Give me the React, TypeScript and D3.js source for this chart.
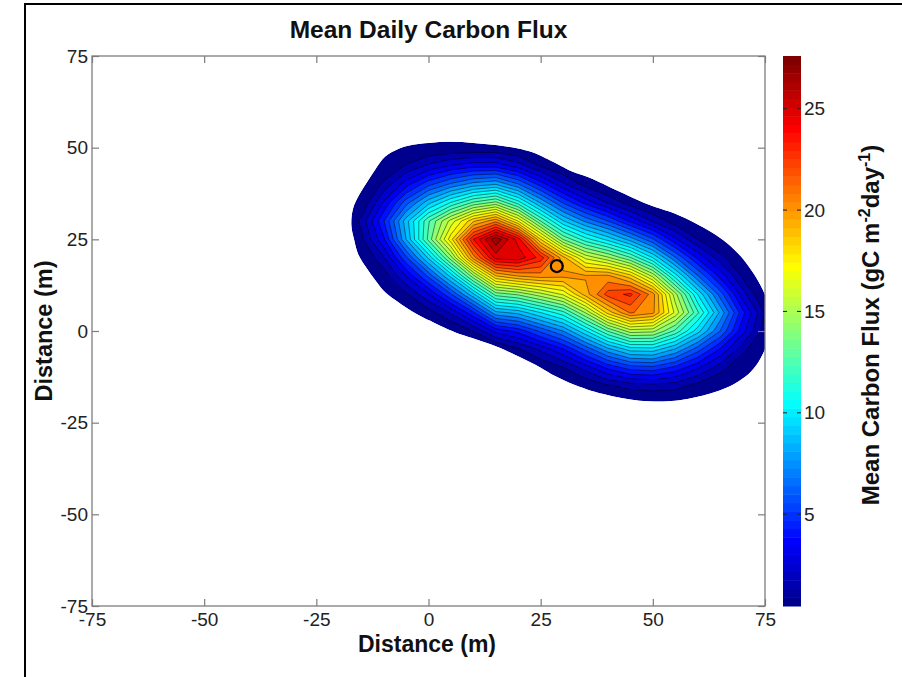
import React, { useEffect, useRef } from 'react';
import * as d3 from 'd3';

// grid positions (m) of the flux samples
const gridX = [-20, -15, -10, -5, 0, 5, 10, 15, 20, 25, 30, 35, 40, 45, 50, 55, 60, 65, 70, 75, 80];
const gridY = [55, 50, 45, 40, 35, 30, 25, 20, 15, 10, 5, 0, -5, -10, -15, -20, -25];

// mean daily flux (gC m-2 day-1), one row per y
const fluxY55 = [0, 0, 0, 0, 0, 0, 0, 0, 0, 0, 0, 0, 0, 0, 0, 0, 0, 0, 0, 0, 0];
const fluxY50 = [0, 0, 0, 0.2, 0.4, 0.5, 0.5, 0.5, 0.2, 0, 0, 0, 0, 0, 0, 0, 0, 0, 0, 0, 0];
const fluxY45 = [0, 0, 0.4, 1.5, 2.5, 3.3, 3.8, 3.8, 2.8, 1.3, 0.4, 0, 0, 0, 0, 0, 0, 0, 0, 0, 0];
const fluxY40 = [0, 0, 1.6, 3.7, 5.6, 7.0, 8.1, 8.6, 6.9, 4.6, 2.5, 1.0, 0, 0, 0, 0, 0, 0, 0, 0, 0];
const fluxY35 = [0, 0.5, 3.3, 6.4, 9.2, 11.4, 13.3, 14.3, 11.8, 8.5, 5.8, 3.8, 2.2, 0.9, 0, 0, 0, 0, 0, 0, 0];
const fluxY30 = [0, 1.6, 4.9, 9.1, 13.0, 16.2, 19.3, 21.0, 17.6, 13.1, 9.6, 7.5, 5.9, 3.9, 2.2, 0.8, 0, 0, 0, 0, 0];
const fluxY25 = [0, 1.1, 3.9, 8.6, 13.4, 18.2, 24.0, 27.4, 24.5, 18.6, 14.0, 11.7, 10.1, 8.2, 6.0, 3.4, 1.4, 0.3, 0, 0, 0];
const fluxY20 = [0, 0.2, 2.2, 5.7, 9.7, 14.6, 20.8, 25.3, 25.5, 23.6, 19.8, 16.5, 15.1, 13.2, 10.4, 6.9, 3.9, 1.7, 0.2, 0, 0];
const fluxY15 = [0, 0, 0.8, 3.2, 6.1, 9.8, 14.6, 19.4, 20.4, 20.8, 20.6, 20.5, 20.6, 18.9, 15.6, 10.9, 6.9, 3.8, 1.2, 0, 0];
const fluxY10 = [0, 0, 0, 1.2, 3.1, 5.8, 9.3, 13.5, 14.2, 15.5, 16.9, 19.9, 22.6, 23.3, 20.8, 15.3, 10.4, 6.4, 2.7, 0.1, 0];
const fluxY05 = [0, 0, 0, 0, 0.9, 2.4, 4.8, 8.3, 8.9, 10.4, 11.9, 15.0, 18.9, 21.4, 20.6, 16.5, 12.4, 8.4, 4.4, 1.2, 0];
const fluxY00 = [0, 0, 0, 0, 0, 0.2, 1.4, 3.5, 4.4, 6.1, 7.7, 10.3, 13.2, 15.4, 15.2, 12.9, 9.9, 6.8, 3.5, 0.9, 0];
const fluxYm05 = [0, 0, 0, 0, 0, 0, 0, 0, 1.2, 2.5, 4.0, 6.1, 8.3, 9.9, 10.0, 8.5, 6.3, 4.0, 1.7, 0, 0];
const fluxYm10 = [0, 0, 0, 0, 0, 0, 0, 0, 0, 0.4, 1.3, 2.7, 4.3, 5.4, 5.6, 4.7, 3.3, 1.8, 0.4, 0, 0];
const fluxYm15 = [0, 0, 0, 0, 0, 0, 0, 0, 0, 0, 0, 0.5, 1.2, 1.7, 1.9, 1.7, 1.0, 0.3, 0, 0, 0];
const fluxYm20 = [0, 0, 0, 0, 0, 0, 0, 0, 0, 0, 0, 0, 0, 0, 0, 0, 0, 0, 0, 0, 0];
const fluxYm25 = [0, 0, 0, 0, 0, 0, 0, 0, 0, 0, 0, 0, 0, 0, 0, 0, 0, 0, 0, 0, 0];

const fluxRows = [fluxY55, fluxY50, fluxY45, fluxY40, fluxY35, fluxY30, fluxY25, fluxY20, fluxY15,
  fluxY10, fluxY05, fluxY00, fluxYm05, fluxYm10, fluxYm15, fluxYm20, fluxYm25];

// outline of the footprint (outside of it there is no data)
const footprintEdge: [number, number][] = [
  [-17.2, 29], [-16.8, 33.5], [-15.5, 37], [-14, 40], [-12, 43.8], [-9.7, 47.5], [-6.5, 49.8],
  [-3.5, 50.8], [0, 51.3], [5, 51.6], [10, 51.3], [15, 50.7], [20, 49.8], [23, 48.8], [26, 47.2],
  [28.5, 45.7], [32, 43.5], [35.5, 42], [40, 39.5], [43.5, 37.5], [47, 35.5], [50.5, 33.8],
  [55, 32], [59.5, 29.4], [63, 27], [66.5, 24], [69.5, 20.5], [72, 16.5], [74, 12.5],
  [75.5, 8], [76, 2], [75.5, -3], [74, -7.5], [71.8, -11.2], [69.4, -13.5], [66.4, -15.5], [63, -17],
  [59, -18.2], [55, -19], [51.6, -19.2], [47, -19], [43, -18.3], [39, -17.2], [35.5, -16],
  [31.5, -14.2], [28.2, -12.3], [25, -10], [21, -7.5], [17, -5.2], [13, -3.3], [9.7, -1.9],
  [6, -0.4], [3.7, 0.8], [1, 2.4], [-1.4, 3.8], [-4.5, 6], [-7.5, 8.5], [-10, 11], [-11.9, 13.9],
  [-14, 17.5], [-15.7, 21], [-16.6, 25],
];

const towerPoint = [28.6, 17.7];
const axisTicks = [-75, -50, -25, 0, 25, 50, 75];
const colorTicks = [5, 10, 15, 20, 25];
const fluxMin = 0.47;
const fluxMax = 27.6;
const levelCount = 30;

// MATLAB jet(64)
const jetU = (p: number) => (p <= 16 ? p / 16 : p <= 31 ? 1 : (48 - p) / 16);
const jet = (i: number) => {
  const r = i >= 25 ? jetU(i - 24) : 0;
  const g = i >= 9 && i <= 55 ? jetU(i - 8) : 0;
  const b = i <= 39 ? jetU(i + 8) : 0;
  return d3.rgb(r * 255, g * 255, b * 255).toString();
};
const colorIndex = (v: number) =>
  Math.max(1, Math.min(64, Math.floor(((v - fluxMin) / (fluxMax - fluxMin)) * 64 + 1e-9) + 1));

const W = 902;
const H = 677;
const plot = { left: 92, right: 765, top: 56, bottom: 606 };
const bar = { left: 783, right: 801 };
const font = '"Liberation Sans", Arial, Helvetica, sans-serif';
const axisColor = '#7d7d7d';
const textColor = '#222';

const App = () => {
  const svgRef = useRef<SVGSVGElement>(null);

  useEffect(() => {
    const svg = d3.select(svgRef.current);
    svg.selectAll('*').remove();

    const x = d3.scaleLinear().domain([-75, 75]).range([plot.left, plot.right]);
    const y = d3.scaleLinear().domain([-75, 75]).range([plot.bottom, plot.top]);
    const c = d3.scaleLinear().domain([fluxMin, fluxMax]).range([plot.bottom, plot.top]);

    svg.append('rect').attr('width', W).attr('height', H).attr('fill', '#fff');
    svg.append('rect')
      .attr('x', 25).attr('y', 4).attr('width', 900).attr('height', 700)
      .attr('fill', 'none').attr('stroke', '#000').attr('stroke-width', 2);

    const edgeLine = d3.line<[number, number]>()
      .x(d => x(d[0]))
      .y(d => y(d[1]))
      .curve(d3.curveCatmullRomClosed.alpha(0.5));

    const defs = svg.append('defs');
    defs.append('clipPath').attr('id', 'plotClip')
      .append('rect')
      .attr('x', plot.left).attr('y', plot.top)
      .attr('width', plot.right - plot.left).attr('height', plot.bottom - plot.top);
    defs.append('clipPath').attr('id', 'footClip')
      .append('path').attr('d', edgeLine(footprintEdge));

    // filled contours
    const nx = gridX.length;
    const ny = gridY.length;
    const values = fluxRows.flat();
    const levels = d3.range(1, levelCount).map(k => fluxMin + (k * (fluxMax - fluxMin)) / levelCount);
    const bands = d3.contours().size([nx, ny]).thresholds(levels)(values);

    const gx = d3.scaleLinear().domain([0.5, nx - 0.5]).range([x(gridX[0]), x(gridX[nx - 1])]);
    const gy = d3.scaleLinear().domain([0.5, ny - 0.5]).range([y(gridY[0]), y(gridY[ny - 1])]);
    const path = d3.geoPath(d3.geoTransform({
      point(px: number, py: number) { this.stream.point(gx(px), gy(py)); },
    }));

    const gPlot = svg.append('g').attr('clip-path', 'url(#plotClip)');
    const gFoot = gPlot.append('g').attr('clip-path', 'url(#footClip)');

    gFoot.append('path').attr('d', edgeLine(footprintEdge)).attr('fill', jet(1));
    gFoot.selectAll('path.band')
      .data(bands)
      .join('path')
      .attr('class', 'band')
      .attr('d', path as any)
      .attr('fill', d => jet(colorIndex(d.value)));
    gFoot.selectAll('path.iso')
      .data(bands)
      .join('path')
      .attr('class', 'iso')
      .attr('d', path as any)
      .attr('fill', 'none')
      .attr('stroke', '#000')
      .attr('stroke-opacity', 0.85)
      .attr('stroke-width', 0.55);

    gPlot.append('circle')
      .attr('cx', x(towerPoint[0])).attr('cy', y(towerPoint[1])).attr('r', 6)
      .attr('fill', 'none').attr('stroke', '#000').attr('stroke-width', 2.2);

    // axes box and ticks
    const styleAxis = (g: any, withText: boolean) => {
      g.select('.domain').remove();
      g.selectAll('.tick line').attr('stroke', axisColor).attr('stroke-width', 1.2);
      g.selectAll('.tick text')
        .attr('fill', textColor)
        .attr('font-family', font)
        .attr('font-size', 19)
        .style('display', withText ? null : 'none');
    };
    const plain = (d: any) => String(d);

    svg.append('g')
      .attr('transform', `translate(0,${plot.bottom})`)
      .call(d3.axisBottom(x).tickValues(axisTicks).tickSize(-7).tickPadding(7).tickFormat(plain))
      .call((g: any) => styleAxis(g, true));
    svg.append('g')
      .attr('transform', `translate(0,${plot.top})`)
      .call(d3.axisTop(x).tickValues(axisTicks).tickSize(-7))
      .call((g: any) => styleAxis(g, false));
    svg.append('g')
      .attr('transform', `translate(${plot.left},0)`)
      .call(d3.axisLeft(y).tickValues(axisTicks).tickSize(-7).tickPadding(4).tickFormat(plain))
      .call((g: any) => styleAxis(g, true));
    svg.append('g')
      .attr('transform', `translate(${plot.right},0)`)
      .call(d3.axisRight(y).tickValues(axisTicks).tickSize(-7))
      .call((g: any) => styleAxis(g, false));

    svg.append('rect')
      .attr('x', plot.left).attr('y', plot.top)
      .attr('width', plot.right - plot.left).attr('height', plot.bottom - plot.top)
      .attr('fill', 'none').attr('stroke', axisColor).attr('stroke-width', 1.3);

    // colour bar
    const step = (fluxMax - fluxMin) / 64;
    svg.append('g')
      .selectAll('rect')
      .data(d3.range(1, 65))
      .join('rect')
      .attr('x', bar.left)
      .attr('width', bar.right - bar.left)
      .attr('y', i => c(fluxMin + i * step))
      .attr('height', i => c(fluxMin + (i - 1) * step) - c(fluxMin + i * step) + 0.5)
      .attr('fill', i => jet(i));

    const cTicks = svg.append('g');
    colorTicks.forEach(t => {
      cTicks.append('line')
        .attr('x1', bar.left).attr('x2', bar.left + 4)
        .attr('y1', c(t)).attr('y2', c(t))
        .attr('stroke', '#222').attr('stroke-width', 1);
      cTicks.append('line')
        .attr('x1', bar.right - 4).attr('x2', bar.right)
        .attr('y1', c(t)).attr('y2', c(t))
        .attr('stroke', '#222').attr('stroke-width', 1);
      cTicks.append('text')
        .attr('x', bar.right + 3).attr('y', c(t)).attr('dy', '0.35em')
        .attr('fill', textColor).attr('font-family', font).attr('font-size', 19)
        .text(t);
    });

    // titles
    svg.append('text')
      .attr('x', (plot.left + plot.right) / 2).attr('y', 38)
      .attr('text-anchor', 'middle')
      .attr('font-family', font).attr('font-size', 24.5).attr('font-weight', 'bold')
      .attr('fill', '#111')
      .text('Mean Daily Carbon Flux');

    svg.append('text')
      .attr('x', 427).attr('y', 652)
      .attr('text-anchor', 'middle')
      .attr('font-family', font).attr('font-size', 23).attr('font-weight', 'bold')
      .attr('fill', '#111')
      .text('Distance (m)');

    svg.append('text')
      .attr('transform', 'translate(52,331) rotate(-90)')
      .attr('text-anchor', 'middle')
      .attr('font-family', font).attr('font-size', 23.5).attr('font-weight', 'bold')
      .attr('fill', '#111')
      .text('Distance (m)');

    const cLabel = svg.append('text')
      .attr('transform', 'translate(879,325) rotate(-90)')
      .attr('text-anchor', 'middle')
      .attr('font-family', font).attr('font-size', 24).attr('font-weight', 'bold')
      .attr('fill', '#111');
    cLabel.append('tspan').text('Mean Carbon Flux (gC m');
    cLabel.append('tspan').attr('dy', -9).attr('font-size', 16).text('-2');
    cLabel.append('tspan').attr('dy', 9).text('day');
    cLabel.append('tspan').attr('dy', -9).attr('font-size', 16).text('-1');
    cLabel.append('tspan').attr('dy', 9).text(')');
  }, []);

  return (
    <svg
      ref={svgRef}
      width={W}
      height={H}
      style={{ position: 'absolute', left: 0, top: 0, display: 'block' }}
    />
  );
};

export default App;
